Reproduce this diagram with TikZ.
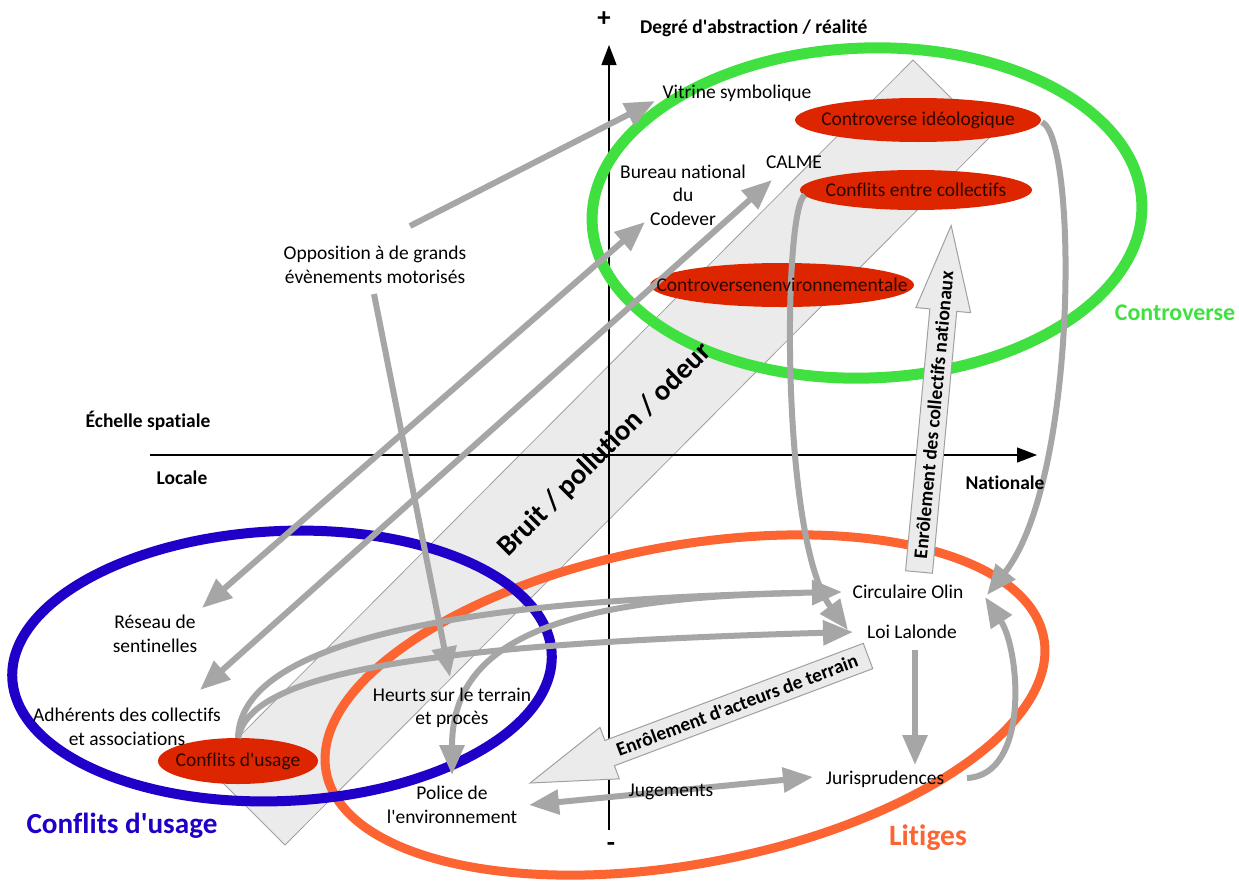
\documentclass[tikz,border=0pt]{standalone}
\usepackage{fontspec}
\setmainfont{Carlito}[Ligatures={NoCommon}]
\usetikzlibrary{arrows.meta}
\newcommand{\apos}{\textquotesingle}
\definecolor{garrow}{RGB}{166,166,166}
\definecolor{bandfill}{RGB}{235,235,235}
\definecolor{bandline}{RGB}{160,160,160}
\definecolor{cgreen}{RGB}{64,224,64}
\definecolor{cblue}{RGB}{32,0,200}
\definecolor{corange}{RGB}{252,100,50}
\definecolor{cred}{RGB}{221,38,0}
\definecolor{credtext}{RGB}{45,5,0}
\tikzset{
 txt/.style={font=\fontsize{27.7}{33.4}\selectfont, align=center, inner sep=0pt},
 axlbl/.style={font=\bfseries\fontsize{27.7}{33.4}\selectfont, inner sep=0pt},
 biglbl/.style={font=\bfseries\fontsize{35}{40}\selectfont, inner sep=0pt},
 signlbl/.style={font=\bfseries\fontsize{38}{40}\selectfont, inner sep=0pt},
 redtxt/.style={txt, text=credtext},
 garr/.style={draw=garrow, line width=3mm, -{Triangle[length=15mm,width=12mm]}},
 gdbl/.style={draw=garrow, line width=3mm, {Triangle[length=15mm,width=12mm]}-{Triangle[length=15mm,width=12mm]}},
 axisline/.style={draw=black, line width=0.6mm, -{Triangle[length=10mm,width=7.5mm]}},
 blockarr/.style={fill=bandfill, draw=bandline, line width=0.5mm},
 redell/.style={fill=cred},
}
\begin{document}
\begin{tikzpicture}[x=0.5mm,y=-0.5mm]
\useasboundingbox (0,0) rectangle (1239,880);
\fill[white] (0,0) rectangle (1239,880);
% diagonal band
\draw[fill=bandfill, draw=bandline, line width=0.4mm] (913,60) -- (990,137) -- (285,845) -- (208,768) -- cycle;
% axes
\draw[axisline] (609,830) -- (609,45);
\draw[axisline] (150,455) -- (1037,455);
% rings
\draw[cgreen, line width=5.5mm, rotate around={2:(867,213)}] (867,213) ellipse [x radius=275, y radius=165];
\draw[corange, line width=4.5mm, rotate around={10.6:(685,705)}] (685,705) ellipse [x radius=365, y radius=159];
\draw[cblue, line width=5mm, rotate around={2.6:(282,666)}] (282,666) ellipse [x radius=270, y radius=135];
% red ellipses
\fill[redell] (918,120) ellipse [x radius=123, y radius=22];
\fill[redell] (916,190) ellipse [x radius=116, y radius=20];
\fill[redell] (782,285) ellipse [x radius=132, y radius=22];
\fill[redell] (238,761) ellipse [x radius=80, y radius=23];
% connector end points
\coordinate (oppA) at (410,226);
\coordinate (vitIn) at (655,101);
\coordinate (resIn) at (202,608);
\coordinate (codIn) at (645,222);
\coordinate (adhIn) at (200,690);
\coordinate (calIn) at (772,180);
\coordinate (oppB) at (374,294);
\coordinate (heuIn) at (450,677);
\coordinate (usageOut) at (238,738);
\coordinate (olinW) at (842,592);
\coordinate (lalW) at (853,632);
\coordinate (olinOut) at (800,593);
\coordinate (polIn) at (452,775);
\coordinate (collOut) at (805,195);
\coordinate (lalNW) at (848,630);
\coordinate (ideoOut) at (1042,122);
\coordinate (olinE) at (987,595);
\coordinate (lalS) at (915,650);
\coordinate (jurN) at (915,765);
\coordinate (jurE) at (967,778);
\coordinate (olinE2) at (985,597);
\coordinate (polE) at (529,805);
\coordinate (jurW) at (813,777);
% gray connectors
\draw[garr] (oppA) -- (vitIn);
\draw[gdbl] (resIn) -- (codIn);
\draw[gdbl] (adhIn) -- (calIn);
\draw[garr] (oppB) -- (heuIn);
\draw[garr] (usageOut) .. controls (240,650) and (420,600) .. (olinW);
\draw[garr] (usageOut) .. controls (250,680) and (380,645) .. (lalW);
\draw[garr] (olinOut) .. controls (560,598) and (452,640) .. (polIn);
\draw[garr] (collOut) .. controls (783,205) and (780,540) .. (lalNW);
\draw[garr] (ideoOut) .. controls (1078,140) and (1078,480) .. (olinE);
\draw[garr] (lalS) -- (jurN);
\draw[garr] (jurE) .. controls (1030,775) and (1020,650) .. (olinE2);
\draw[gdbl] (polE) -- (jurW);
% block arrows
\begin{scope}[shift={(919,572)}, rotate=84.7]
\draw[blockarr] (0,-13.5) -- (263,-13.5) -- (263,-27.5) -- (348,0) -- (263,27.5) -- (263,13.5) -- (0,13.5) -- cycle;
\end{scope}
\node[axlbl, rotate=84.7] (enrnat) at (933.5,415) {Enrôlement des collectifs nationaux};
\begin{scope}[shift={(868,656)}, rotate=200.6]
\draw[blockarr] (0,-13.5) -- (276,-13.5) -- (276,-27.5) -- (361,0) -- (276,27.5) -- (276,13.5) -- (0,13.5) -- cycle;
\end{scope}
\node[axlbl, rotate=20.6] (enrter) at (737,705) {Enrôlement d\apos acteurs de terrain};
% band label
\node[font=\bfseries\fontsize{41}{46}\selectfont, rotate=45, inner sep=0pt] (bruit) at (605,450) {Bruit / pollution / odeur};
% text nodes
\node[txt] (vitrine) at (737,93) {Vitrine symbolique};
\node[txt] (codever) at (683,195) {Bureau national\\du\\Codever};
\node[txt] (calme) at (794,162) {CALME};
\node[txt] (opp) at (375,265) {Opposition à de grands\\évènements motorisés};
\node[txt] (reseau) at (155,634) {Réseau de\\sentinelles};
\node[txt] (adh) at (127,727) {Adhérents des collectifs\\et associations};
\node[txt] (heurts) at (452,708) {Heurts sur le terrain\\et procès};
\node[txt] (police) at (452,805) {Police de\\l\apos environnement};
\node[txt] (jug) at (671,792) {Jugements};
\node[txt] (juris) at (885,779) {Jurisprudences};
\node[txt] (olin) at (908,592) {Circulaire Olin};
\node[txt] (lalonde) at (912,632) {Loi Lalonde};
\node[redtxt] (cideo) at (918,120) {Controverse idéologique};
\node[redtxt] (ccoll) at (916,190) {Conflits entre collectifs};
\node[redtxt] (cenv) at (782,285) {Controversenenvironnementale};
\node[redtxt] (cusage) at (238,761) {Conflits d\apos usage};
% axis labels
\node[signlbl] (plus) at (604,19) {+};
\node[signlbl] (minus) at (611,847) {-};
\node[axlbl, anchor=west] (degre) at (640,28) {Degré d\apos abstraction / réalité};
\node[axlbl] (echelle) at (148,421) {Échelle spatiale};
\node[axlbl] (locale) at (182,478) {Locale};
\node[axlbl] (nationale) at (1005,483) {Nationale};
\node[biglbl, text=cgreen, font=\bfseries\fontsize{34}{40}\selectfont] (gcontro) at (1175,313) {Controverse};
\node[biglbl, text=cblue, font=\bfseries\fontsize{41.5}{46}\selectfont] (gusage) at (122,826) {Conflits d\apos usage};
\node[biglbl, text=corange, font=\bfseries\fontsize{42}{46}\selectfont] (glitiges) at (928,838) {Litiges};
\end{tikzpicture}
\end{document}
